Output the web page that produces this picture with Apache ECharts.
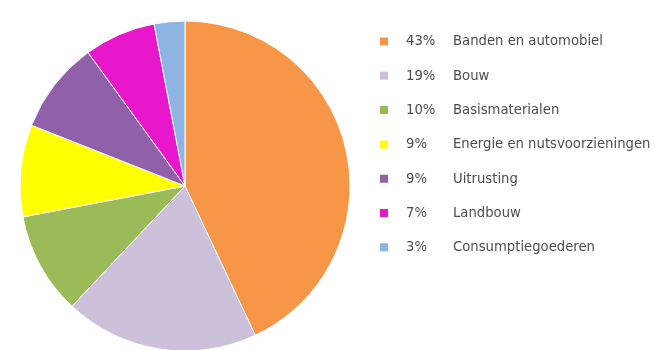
<!DOCTYPE html>
<html>
<head>
<meta charset="utf-8">
<script src="https://cdn.jsdelivr.net/npm/echarts@6/dist/echarts.min.js"></script>
<style>
  html, body { margin: 0; padding: 0; background: #fff; }
  #chart { width: 655px; height: 350px; }
</style>
</head>
<body>
<div id="chart"></div>
<script>
// sectoren en aandelen (%)
var categories = ["Banden en automobiel", "Bouw", "Basismaterialen", "Energie en nutsvoorzieningen", "Uitrusting", "Landbouw", "Consumptiegoederen"];
var shares = [43, 19, 10, 9, 9, 7, 3];
var colors = ["#F79646", "#CCC0DA", "#9BBB59", "#FFFF00", "#9060AA", "#E817CC", "#8DB4E2"];

var pieData = categories.map(function (name, i) {
  return { name: name, value: shares[i], itemStyle: { color: colors[i] } };
});

var font = "'DejaVu Sans Condensed', Roboto, sans-serif";

var myChart = echarts.init(document.getElementById("chart"));
myChart.setOption({
  animation: false,
  legend: {
    orient: "vertical",
    left: 373,
    top: 29,
    itemWidth: 10,
    itemHeight: 10,
    itemGap: 19.3,
    icon: "rect",
    data: categories,
    formatter: function (name) {
      var i = categories.indexOf(name);
      return "{s|}{p|" + shares[i] + "%}{n|" + name + "}";
    },
    textStyle: {
      rich: {
        s: { width: 12, lineHeight: 14 },
        p: { width: 47, fontSize: 14.7, lineHeight: 14, color: "#4d4d4d", fontFamily: font },
        n: { fontSize: 14.7, lineHeight: 14, color: "#4d4d4d", fontFamily: font }
      }
    }
  },
  series: [{
    type: "pie",
    center: [185, 186],
    radius: 165,
    startAngle: 90,
    clockwise: true,
    label: { show: false },
    labelLine: { show: false },
    itemStyle: { borderColor: "#fff", borderWidth: 1 },
    data: pieData
  }]
});
</script>
</body>
</html>
